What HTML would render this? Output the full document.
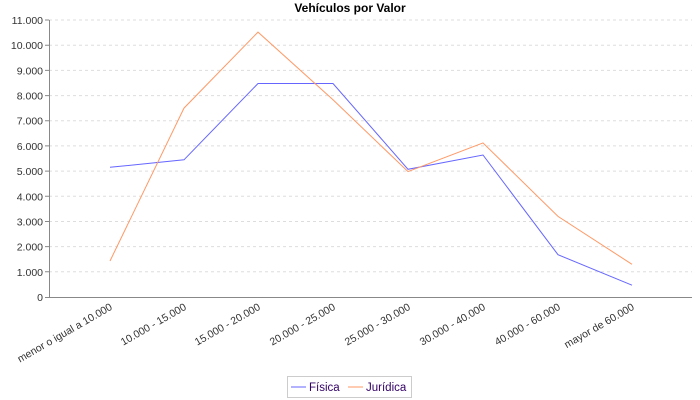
<!DOCTYPE html>
<html><head><meta charset="utf-8"><style>body{margin:0;background:#fff}svg{display:block}</style></head><body>
<svg width="700" height="400" xmlns="http://www.w3.org/2000/svg" font-family="Liberation Sans, sans-serif">
<rect width="700" height="400" fill="#fff"/>
<text x="350" y="12" text-anchor="middle" font-size="12" font-weight="bold">Vehículos por Valor</text>
<g stroke="#ddd" stroke-dasharray="3,3" stroke-width="1">
<line x1="49" x2="692" y1="271.8" y2="271.8"/><line x1="49" x2="692" y1="246.6" y2="246.6"/><line x1="49" x2="692" y1="221.5" y2="221.5"/><line x1="49" x2="692" y1="196.3" y2="196.3"/><line x1="49" x2="692" y1="171.1" y2="171.1"/><line x1="49" x2="692" y1="145.9" y2="145.9"/><line x1="49" x2="692" y1="120.7" y2="120.7"/><line x1="49" x2="692" y1="95.6" y2="95.6"/><line x1="49" x2="692" y1="70.4" y2="70.4"/><line x1="49" x2="692" y1="45.2" y2="45.2"/><line x1="49" x2="692" y1="20" y2="20"/>
</g>
<g stroke="#888" stroke-width="1"><line x1="49.5" y1="20" x2="49.5" y2="297"/><line x1="49" y1="297.5" x2="692" y2="297.5"/>
<path d="M45 297.5h4M45 271.8h4M45 246.6h4M45 221.5h4M45 196.3h4M45 171.1h4M45 145.9h4M45 120.7h4M45 95.6h4M45 70.4h4M45 45.2h4M45 20h4"/></g>
<g font-size="10.5" text-anchor="end" fill="#333">
<text x="43" y="301">0</text><text x="43" y="275.8">1.000</text><text x="43" y="250.6">2.000</text><text x="43" y="225.5">3.000</text><text x="43" y="200.3">4.000</text><text x="43" y="175.1">5.000</text><text x="43" y="149.9">6.000</text><text x="43" y="124.7">7.000</text><text x="43" y="99.6">8.000</text><text x="43" y="74.4">9.000</text><text x="43" y="49.2">10.000</text><text x="43" y="24">11.000</text>
</g>
<g font-size="10.5" text-anchor="end" fill="#333">
<text transform="translate(113,309) rotate(-30)">menor o igual a 10.000</text>
<text transform="translate(187,309) rotate(-30)">10.000 - 15.000</text>
<text transform="translate(261,309) rotate(-30)">15.000 - 20.000</text>
<text transform="translate(336,309) rotate(-30)">20.000 - 25.000</text>
<text transform="translate(411,309) rotate(-30)">25.000 - 30.000</text>
<text transform="translate(486,309) rotate(-30)">30.000 - 40.000</text>
<text transform="translate(561,309) rotate(-30)">40.000 - 60.000</text>
<text transform="translate(635,309) rotate(-30)">mayor de 60.000</text>
</g>
<polyline fill="none" stroke="#6666ff" stroke-width="1" points="110,167.3 184,159.8 258,83.5 333,83.5 408,169.3 483,155 558,254.7 632,285.2"/>
<polyline fill="none" stroke="#ff9966" stroke-width="1" points="110,261 184,108.1 258,32.1 333,99.8 408,171.6 483,142.9 558,216.4 632,264.3"/>
<rect x="287.5" y="376.5" width="124" height="21" fill="#fff" stroke="#ccc"/>
<line x1="291" y1="387" x2="306" y2="387" stroke="#6666ff"/>
<text x="309" y="391" font-size="11.5" fill="#330066">Física</text>
<line x1="348" y1="387" x2="363" y2="387" stroke="#ff9966"/>
<text x="366" y="391" font-size="11.5" fill="#330066">Jurídica</text>
</svg>
</body></html>
